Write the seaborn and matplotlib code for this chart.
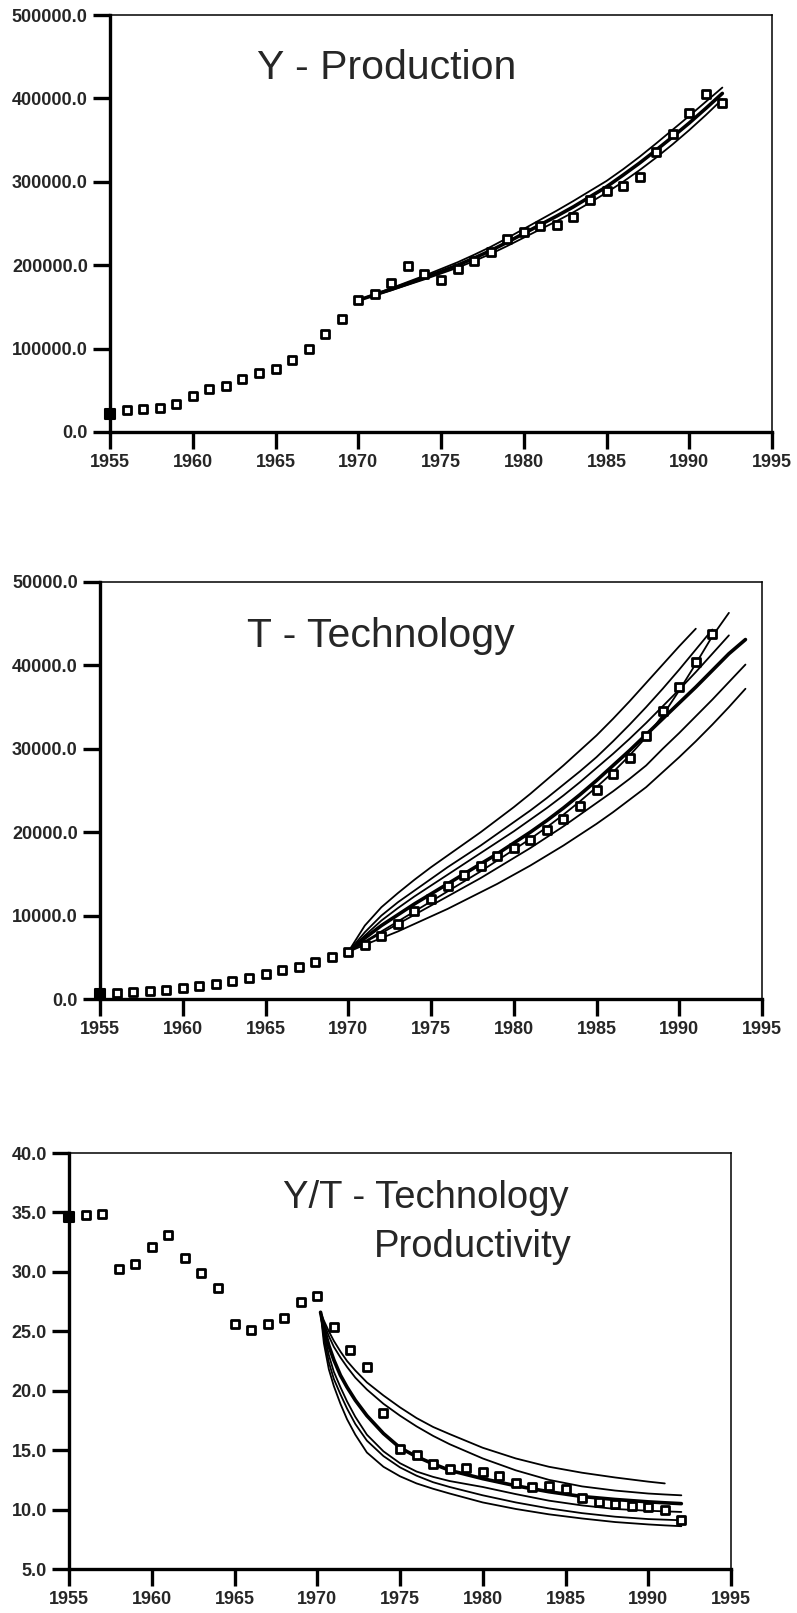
import numpy as np
import pandas as pd
import matplotlib.pyplot as plt
import matplotlib.ticker as mticker
import seaborn as sns

# observed series, 1955-1992
years = list(range(1955, 1993))
y_prod = [22000, 26000, 28000, 29000, 34000, 43000, 52000, 55000, 63000, 71000,
          76000, 86000, 99000, 117000, 136000, 158000, 165000, 179000, 199000, 189000,
          182000, 196000, 205000, 216000, 231000, 240000, 247000, 248000, 258000, 278000,
          289000, 295000, 306000, 336000, 357000, 383000, 405000, 395000]
t_tech = [600, 700, 850, 1000, 1100, 1350, 1600, 1850, 2200, 2550,
          3050, 3450, 3800, 4400, 5000, 5650, 6500, 7600, 9000, 10600,
          12000, 13500, 14900, 16000, 17100, 18100, 19100, 20300, 21600, 23100,
          25000, 27000, 28900, 31500, 34500, 37400, 40400, 43800]
yt_prod = [34.6, 34.8, 34.9, 30.2, 30.7, 32.1, 33.1, 31.2, 29.9, 28.6,
           25.6, 25.1, 25.6, 26.1, 27.5, 28.0, 25.4, 23.4, 22.0, 18.1,
           15.1, 14.6, 13.8, 13.4, 13.5, 13.2, 12.8, 12.2, 11.9, 12.0,
           11.7, 11.0, 10.6, 10.5, 10.3, 10.2, 10.0, 9.1]

# model runs for Y, 1970-1992
y_years = list(range(1970, 1993))
y_upper = [158000, 165500, 172500, 180000, 187500, 195500, 203500, 212500, 222000, 232500,
           243500, 254500, 265500, 277000, 289000, 301000, 315000, 330000, 346000, 362500,
           379000, 396000, 413000]
y_mid = [158000, 164500, 171000, 178000, 185000, 192500, 200000, 208500, 217500, 227500,
         238000, 248500, 259000, 270000, 282000, 294000, 308000, 322500, 338000, 354000,
         370500, 388000, 406000]
y_lower = [158000, 164000, 170000, 176500, 183000, 190000, 197000, 205000, 213500, 223000,
           233000, 243000, 253000, 263500, 275000, 287000, 300000, 314000, 329000, 345000,
           362000, 380000, 399000]

# model runs for T, 1970-1994
t_years = list(range(1970, 1995))
t_run1 = [5650, 8800, 11000, 12700, 14300, 15800, 17200, 18600, 20000, 21500,
          23000, 24600, 26300, 28000, 29800, 31600, 33600, 35700, 37900, 40100,
          42300, 44400]
t_run2 = [5650, 8000, 10000, 11600, 13000, 14400, 15800, 17100, 18400, 19800,
          21200, 22600, 24100, 25700, 27300, 29000, 30900, 32900, 35000, 37200,
          39500, 41900, 44300]
t_run3 = [5650, 7600, 9400, 10900, 12300, 13600, 14900, 16200, 17500, 18800,
          20100, 21500, 22900, 24400, 26000, 27700, 29400, 31200, 33100, 35100,
          37100, 39200, 41400, 43600]
t_fit = [5650, 6900, 8100, 9300, 10500, 11700, 12900, 14100, 15300, 16600,
         17900, 19200, 20600, 22100, 23700, 25400, 27200, 29200, 31400, 34000,
         37000, 40200, 43500, 46300]
t_mid = [5650, 7300, 8800, 10100, 11400, 12600, 13800, 15000, 16200, 17400,
         18700, 20000, 21400, 22900, 24500, 26200, 28000, 29800, 31700, 33600,
         35500, 37400, 39400, 41400, 43100]
t_run5 = [5650, 6800, 7900, 9000, 10100, 11200, 12300, 13400, 14500, 15700,
          16900, 18100, 19400, 20700, 22100, 23500, 24900, 26400, 28000, 30000,
          31900, 33900, 35900, 38000, 40100]
t_run6 = [5650, 6500, 7300, 8100, 9000, 9900, 10800, 11800, 12800, 13800,
          14900, 16000, 17200, 18400, 19700, 21000, 22400, 23900, 25400, 27200,
          29000, 30900, 32900, 35000, 37200]

# model runs for Y/T
yt_years = [1970.2, 1970.4, 1970.7, 1971.0, 1971.4, 1971.8, 1972.3, 1973, 1974, 1975,
            1976, 1977, 1978, 1980, 1982, 1984, 1986, 1988, 1990, 1991, 1992]
yt_run1 = [26.6, 25.9, 25.0, 24.2, 23.3, 22.5, 21.7, 20.7, 19.6, 18.6,
           17.7, 16.95, 16.35, 15.2, 14.3, 13.6, 13.1, 12.7, 12.35, 12.2]
yt_run2 = [26.6, 25.7, 24.6, 23.7, 22.8, 22.0, 21.1, 20.1, 18.9, 17.9,
           17.0, 16.2, 15.5, 14.3, 13.3, 12.5, 11.95, 11.6, 11.35, 11.27, 11.2]
yt_mid = [26.6, 25.3, 23.8, 22.6, 21.3, 20.3, 19.2, 17.9, 16.4, 15.2,
          14.45, 13.85, 13.3, 12.6, 12.0, 11.5, 11.1, 10.85, 10.65, 10.57, 10.5]
yt_run4 = [26.6, 24.9, 23.0, 21.6, 20.3, 19.1, 17.8, 16.3, 14.9, 13.9,
           13.2, 12.75, 12.4, 11.9, 11.3, 10.75, 10.35, 10.05, 9.9, 9.85, 9.8]
yt_run5 = [26.6, 24.5, 22.4, 21.0, 19.7, 18.5, 17.2, 15.8, 14.5, 13.55,
           12.85, 12.3, 11.9, 11.2, 10.6, 10.1, 9.7, 9.4, 9.2, 9.15, 9.1]
yt_run6 = [26.6, 24.0, 21.8, 20.4, 18.9, 17.6, 16.3, 14.8, 13.6, 12.8,
           12.2, 11.75, 11.35, 10.6, 10.05, 9.6, 9.25, 8.95, 8.75, 8.67, 8.6]

x_ticks = [1955, 1960, 1965, 1970, 1975, 1980, 1985, 1990, 1995]

sns.set_style("ticks")
plt.rcParams['font.family'] = ['Liberation Sans', 'DejaVu Sans']

W, H = 797, 1613
fig = plt.figure(figsize=(W / 100, H / 100), dpi=100)


def make_ax(left, top, bottom):
    return fig.add_axes([left / W, 1 - bottom / H, 662 / W, (bottom - top) / H])


def style_ax(ax, ylim, ystep):
    ax.set_xlim(1955, 1995)
    ax.set_ylim(*ylim)
    ax.set_xticks(x_ticks)
    ax.set_yticks(np.arange(ylim[0], ylim[1] + ystep / 2, ystep))
    ax.yaxis.set_major_formatter(mticker.FormatStrFormatter('%.1f'))
    ax.set_xlabel("")
    ax.set_ylabel("")
    for side in ["left", "bottom"]:
        ax.spines[side].set_linewidth(2.4)
    for side in ["top", "right"]:
        ax.spines[side].set_linewidth(1.1)
    ax.spines[:].set_color("black")
    ax.tick_params(direction="out", length=12, width=2.4, color="black",
                   labelsize=13, pad=4)
    for lab in ax.get_xticklabels() + ax.get_yticklabels():
        lab.set_fontweight("bold")


def draw_runs(ax, xs, runs, thick):
    for i, r in enumerate(runs):
        sns.lineplot(x=xs[:len(r)], y=r, ax=ax, color="black",
                     lw=2.6 if i == thick else 1.3, zorder=2)


def draw_points(ax, vals):
    df = pd.DataFrame({"year": years, "val": vals})
    sns.scatterplot(data=df.iloc[1:], x="year", y="val", ax=ax, marker="s", s=36,
                    facecolor="white", edgecolor="black", linewidth=2.0,
                    zorder=3, clip_on=False)
    sns.scatterplot(data=df.iloc[:1], x="year", y="val", ax=ax, marker="s", s=50,
                    color="black", edgecolor="black", linewidth=1.5,
                    zorder=3, clip_on=False)


# Y - Production
ax1 = make_ax(110, 15, 432)
draw_runs(ax1, y_years, [y_upper, y_mid, y_lower], thick=1)
draw_points(ax1, y_prod)
style_ax(ax1, (0, 500000), 100000)

# T - Technology
ax2 = make_ax(100, 582, 999)
draw_runs(ax2, t_years, [t_run1, t_run2, t_run3, t_fit, t_mid, t_run5, t_run6], thick=4)
draw_points(ax2, t_tech)
style_ax(ax2, (0, 50000), 10000)

# Y/T - Technology Productivity
ax3 = make_ax(69, 1153, 1569)
draw_runs(ax3, yt_years, [yt_run1, yt_run2, yt_mid, yt_run4, yt_run5, yt_run6], thick=2)
draw_points(ax3, yt_prod)
style_ax(ax3, (5, 40), 5)

fig.text(257 / W, 1 - 79 / H, "Y - Production", ha="left", va="baseline", fontsize=29.5)
fig.text(247 / W, 1 - 647 / H, "T - Technology", ha="left", va="baseline", fontsize=29.5)
fig.text(569 / W, 1 - 1208 / H, "Y/T - Technology", ha="right", va="baseline", fontsize=27.5)
fig.text(572 / W, 1 - 1257 / H, "Productivity", ha="right", va="baseline", fontsize=27.5)

fig.savefig("out.png", dpi=100)
